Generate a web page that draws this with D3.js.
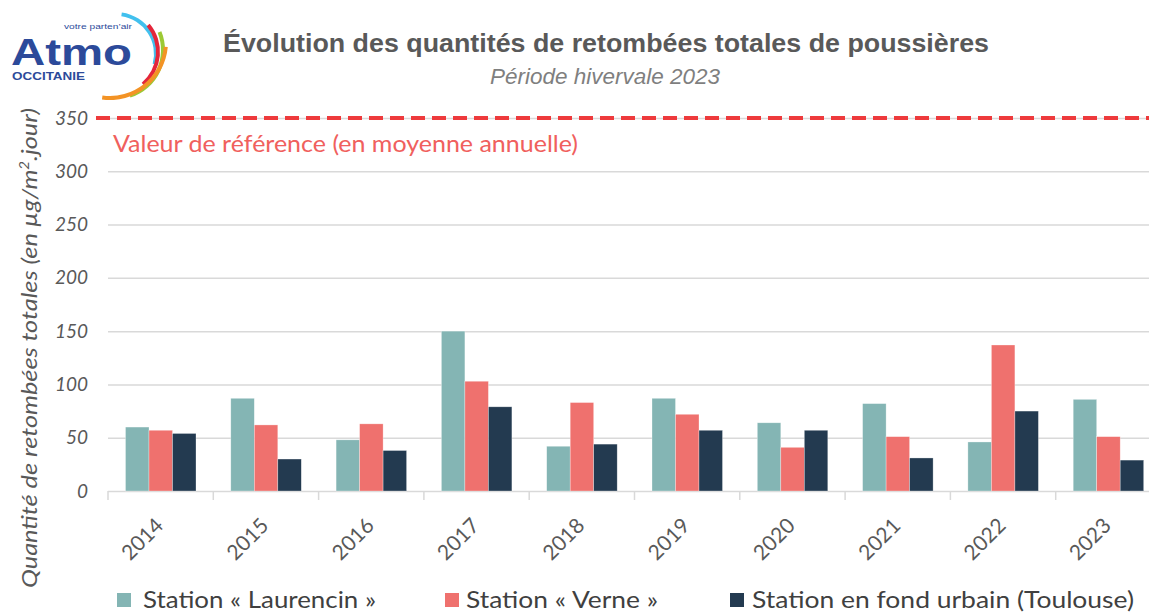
<!DOCTYPE html>
<html>
<head>
<meta charset="utf-8">
<script src="https://cdn.jsdelivr.net/npm/d3@7"></script>
<style>
  body { margin: 0; background: #fff; }
  svg { display: block; }
</style>
</head>
<body>
<script>
"use strict";

// data
var years = ["2014", "2015", "2016", "2017", "2018", "2019", "2020", "2021", "2022", "2023"];
var laurencin = [60, 87, 48, 150, 42, 87, 64, 82, 46, 86];
var verne = [57, 62, 63, 103, 83, 72, 41, 51, 137, 51];
var urbain = [54, 30, 38, 79, 44, 57, 57, 31, 75, 29];
var seriesNames = ["Station « Laurencin »", "Station « Verne »", "Station en fond urbain (Toulouse)"];
var seriesColors = ["#84b5b4", "#ef716e", "#233a50"];
var yTicks = [0, 50, 100, 150, 200, 250, 300, 350];
var refValue = 350;

var width = 1149;
var height = 612;

var series = [laurencin, verne, urbain];

var svg = d3.select("body").append("svg")
    .attr("width", width)
    .attr("height", height);

var y = d3.scaleLinear().domain([0, 350]).range([491, 118]);
var x0 = d3.scaleBand().domain(years).range([108, 1161]);
var x1 = d3.scaleBand().domain(d3.range(series.length)).range([17.5, 88]);

// gridlines
var grid = svg.append("g")
    .attr("transform", "translate(108,0)")
    .call(d3.axisLeft(y).tickValues(yTicks).tickSize(-1060).tickFormat(""));
grid.select(".domain").remove();
grid.selectAll("line").attr("stroke", "#d9d9d9").attr("stroke-width", 1.5);

// y tick labels
svg.append("g")
  .selectAll("text")
  .data(yTicks)
  .enter().append("text")
    .attr("x", 88)
    .attr("y", d => y(d) + 6.5)
    .attr("text-anchor", "end")
    .style("font", "italic 19px Lato, 'Open Sans', sans-serif")
    .style("fill", "#595959")
    .text(d => d);

// x boundary ticks
var bounds = years.map(d => x0(d)).concat([x0.range()[1]]);
svg.append("g")
  .selectAll("line")
  .data(bounds)
  .enter().append("line")
    .attr("x1", d => d).attr("x2", d => d)
    .attr("y1", 491).attr("y2", 500)
    .attr("stroke", "#d9d9d9").attr("stroke-width", 1.5);

// bars
var groups = svg.append("g")
  .selectAll("g")
  .data(years)
  .enter().append("g")
    .attr("transform", d => "translate(" + x0(d) + ",0)");

groups.selectAll("rect")
  .data((d, i) => series.map((s, k) => ({k: k, v: s[i]})))
  .enter().append("rect")
    .attr("x", d => x1(d.k))
    .attr("width", x1.bandwidth())
    .attr("y", d => y(d.v))
    .attr("height", d => y(0) - y(d.v))
    .attr("fill", d => seriesColors[d.k])
    .attr("stroke", "#ffffff")
    .attr("stroke-opacity", 0.5)
    .attr("stroke-width", 0.6);

// x labels
svg.append("g")
  .selectAll("text")
  .data(years)
  .enter().append("text")
    .attr("transform", d => "translate(" + (x0(d) + x0.bandwidth() / 2 + 4) + ",527) rotate(-45)")
    .attr("text-anchor", "end")
    .style("font", "21px Lato, 'Open Sans', sans-serif")
    .style("fill", "#595959")
    .text(d => d);

// reference line
svg.append("line")
    .attr("x1", 96).attr("x2", width)
    .attr("y1", y(refValue)).attr("y2", y(refValue))
    .attr("stroke", "#ee3a3c")
    .attr("stroke-width", 4)
    .attr("stroke-dasharray", "14,7");

svg.append("text")
    .attr("x", 113)
    .attr("y", 152)
    .attr("textLength", 465)
    .attr("lengthAdjust", "spacingAndGlyphs")
    .style("font", "23px Lato, 'Open Sans', sans-serif")
    .style("fill", "#f0605d")
    .text("Valeur de référence (en moyenne annuelle)");

// y axis title
var yt = svg.append("text")
    .attr("transform", "translate(37,348) rotate(-90)")
    .attr("text-anchor", "middle")
    .attr("textLength", 480)
    .attr("lengthAdjust", "spacingAndGlyphs")
    .style("font", "italic 22px Lato, 'Open Sans', sans-serif")
    .style("fill", "#595959");
yt.append("tspan").text("Quantité de retombées totales (en µg/m");
yt.append("tspan").attr("dy", -8).style("font-size", "13px").text("2");
yt.append("tspan").attr("dy", 8).text(".jour)");

// titles
svg.append("text")
    .attr("x", 606)
    .attr("y", 52)
    .attr("text-anchor", "middle")
    .attr("textLength", 766)
    .attr("lengthAdjust", "spacingAndGlyphs")
    .style("font", "bold 26px 'Liberation Sans Narrow', 'Liberation Sans', Arial, sans-serif")
    .style("fill", "#595959")
    .text("Évolution des quantités de retombées totales de poussières");

svg.append("text")
    .attr("x", 605)
    .attr("y", 84)
    .attr("text-anchor", "middle")
    .attr("textLength", 230)
    .attr("lengthAdjust", "spacingAndGlyphs")
    .style("font", "italic 22px 'Liberation Sans Narrow', 'Liberation Sans', Arial, sans-serif")
    .style("fill", "#7f7f7f")
    .text("Période hivervale 2023");

// legend
var legendX = [117, 445, 730];
var legendTextX = [143, 466, 752];
var legendTextW = [233, 192, 382];
var legend = svg.append("g")
  .selectAll("g")
  .data(seriesNames)
  .enter().append("g");
legend.append("rect")
    .attr("x", (d, i) => legendX[i])
    .attr("y", 593).attr("width", 14).attr("height", 14)
    .attr("fill", (d, i) => seriesColors[i]);
legend.append("text")
    .attr("x", (d, i) => legendTextX[i]).attr("y", 608)
    .attr("textLength", (d, i) => legendTextW[i])
    .attr("lengthAdjust", "spacingAndGlyphs")
    .style("font", "24px Lato, 'Open Sans', sans-serif")
    .style("fill", "#404040")
    .text(d => d);

// logo
var logo = svg.append("g");
logo.append("text")
    .attr("x", 11).attr("y", 65)
    .style("font", "bold 37px 'Liberation Sans', Arial, sans-serif")
    .style("fill", "#2c4a9a")
    .attr("textLength", 121)
    .attr("lengthAdjust", "spacingAndGlyphs")
    .text("Atmo");
logo.append("text")
    .attr("x", 64).attr("y", 29)
    .attr("textLength", 68)
    .attr("lengthAdjust", "spacingAndGlyphs")
    .style("font", "8px 'Liberation Sans', Arial, sans-serif")
    .style("fill", "#2c4a9a")
    .text("votre parten’air");
logo.append("text")
    .attr("x", 12).attr("y", 80)
    .attr("textLength", 73)
    .attr("lengthAdjust", "spacingAndGlyphs")
    .style("font", "bold 10px 'Liberation Sans', Arial, sans-serif")
    .style("fill", "#2c4a9a")
    .text("OCCITANIE");

var arcs = [
  {c: "#41c0ee", r: 40, a0: 8, a1: 105, cx: 116, cy: 54},
  {c: "#e4263b", r: 42, a0: 50, a1: 140, cx: 116, cy: 52},
  {c: "#9cc935", r: 48, a0: 68, a1: 162, cx: 115, cy: 50},
  {c: "#f39325", r: 56, a0: 95, a1: 188, cx: 110, cy: 42}
];
var arcGen = d3.arc();
logo.selectAll("path.arc")
  .data(arcs)
  .enter().append("path")
    .attr("class", "arc")
    .attr("transform", d => "translate(" + d.cx + "," + d.cy + ")")
    .attr("d", d => arcGen({innerRadius: d.r - 2, outerRadius: d.r + 2,
        startAngle: d.a0 * Math.PI / 180, endAngle: d.a1 * Math.PI / 180, cornerRadius: 2}))
    .attr("fill", d => d.c);
</script>
</body>
</html>
